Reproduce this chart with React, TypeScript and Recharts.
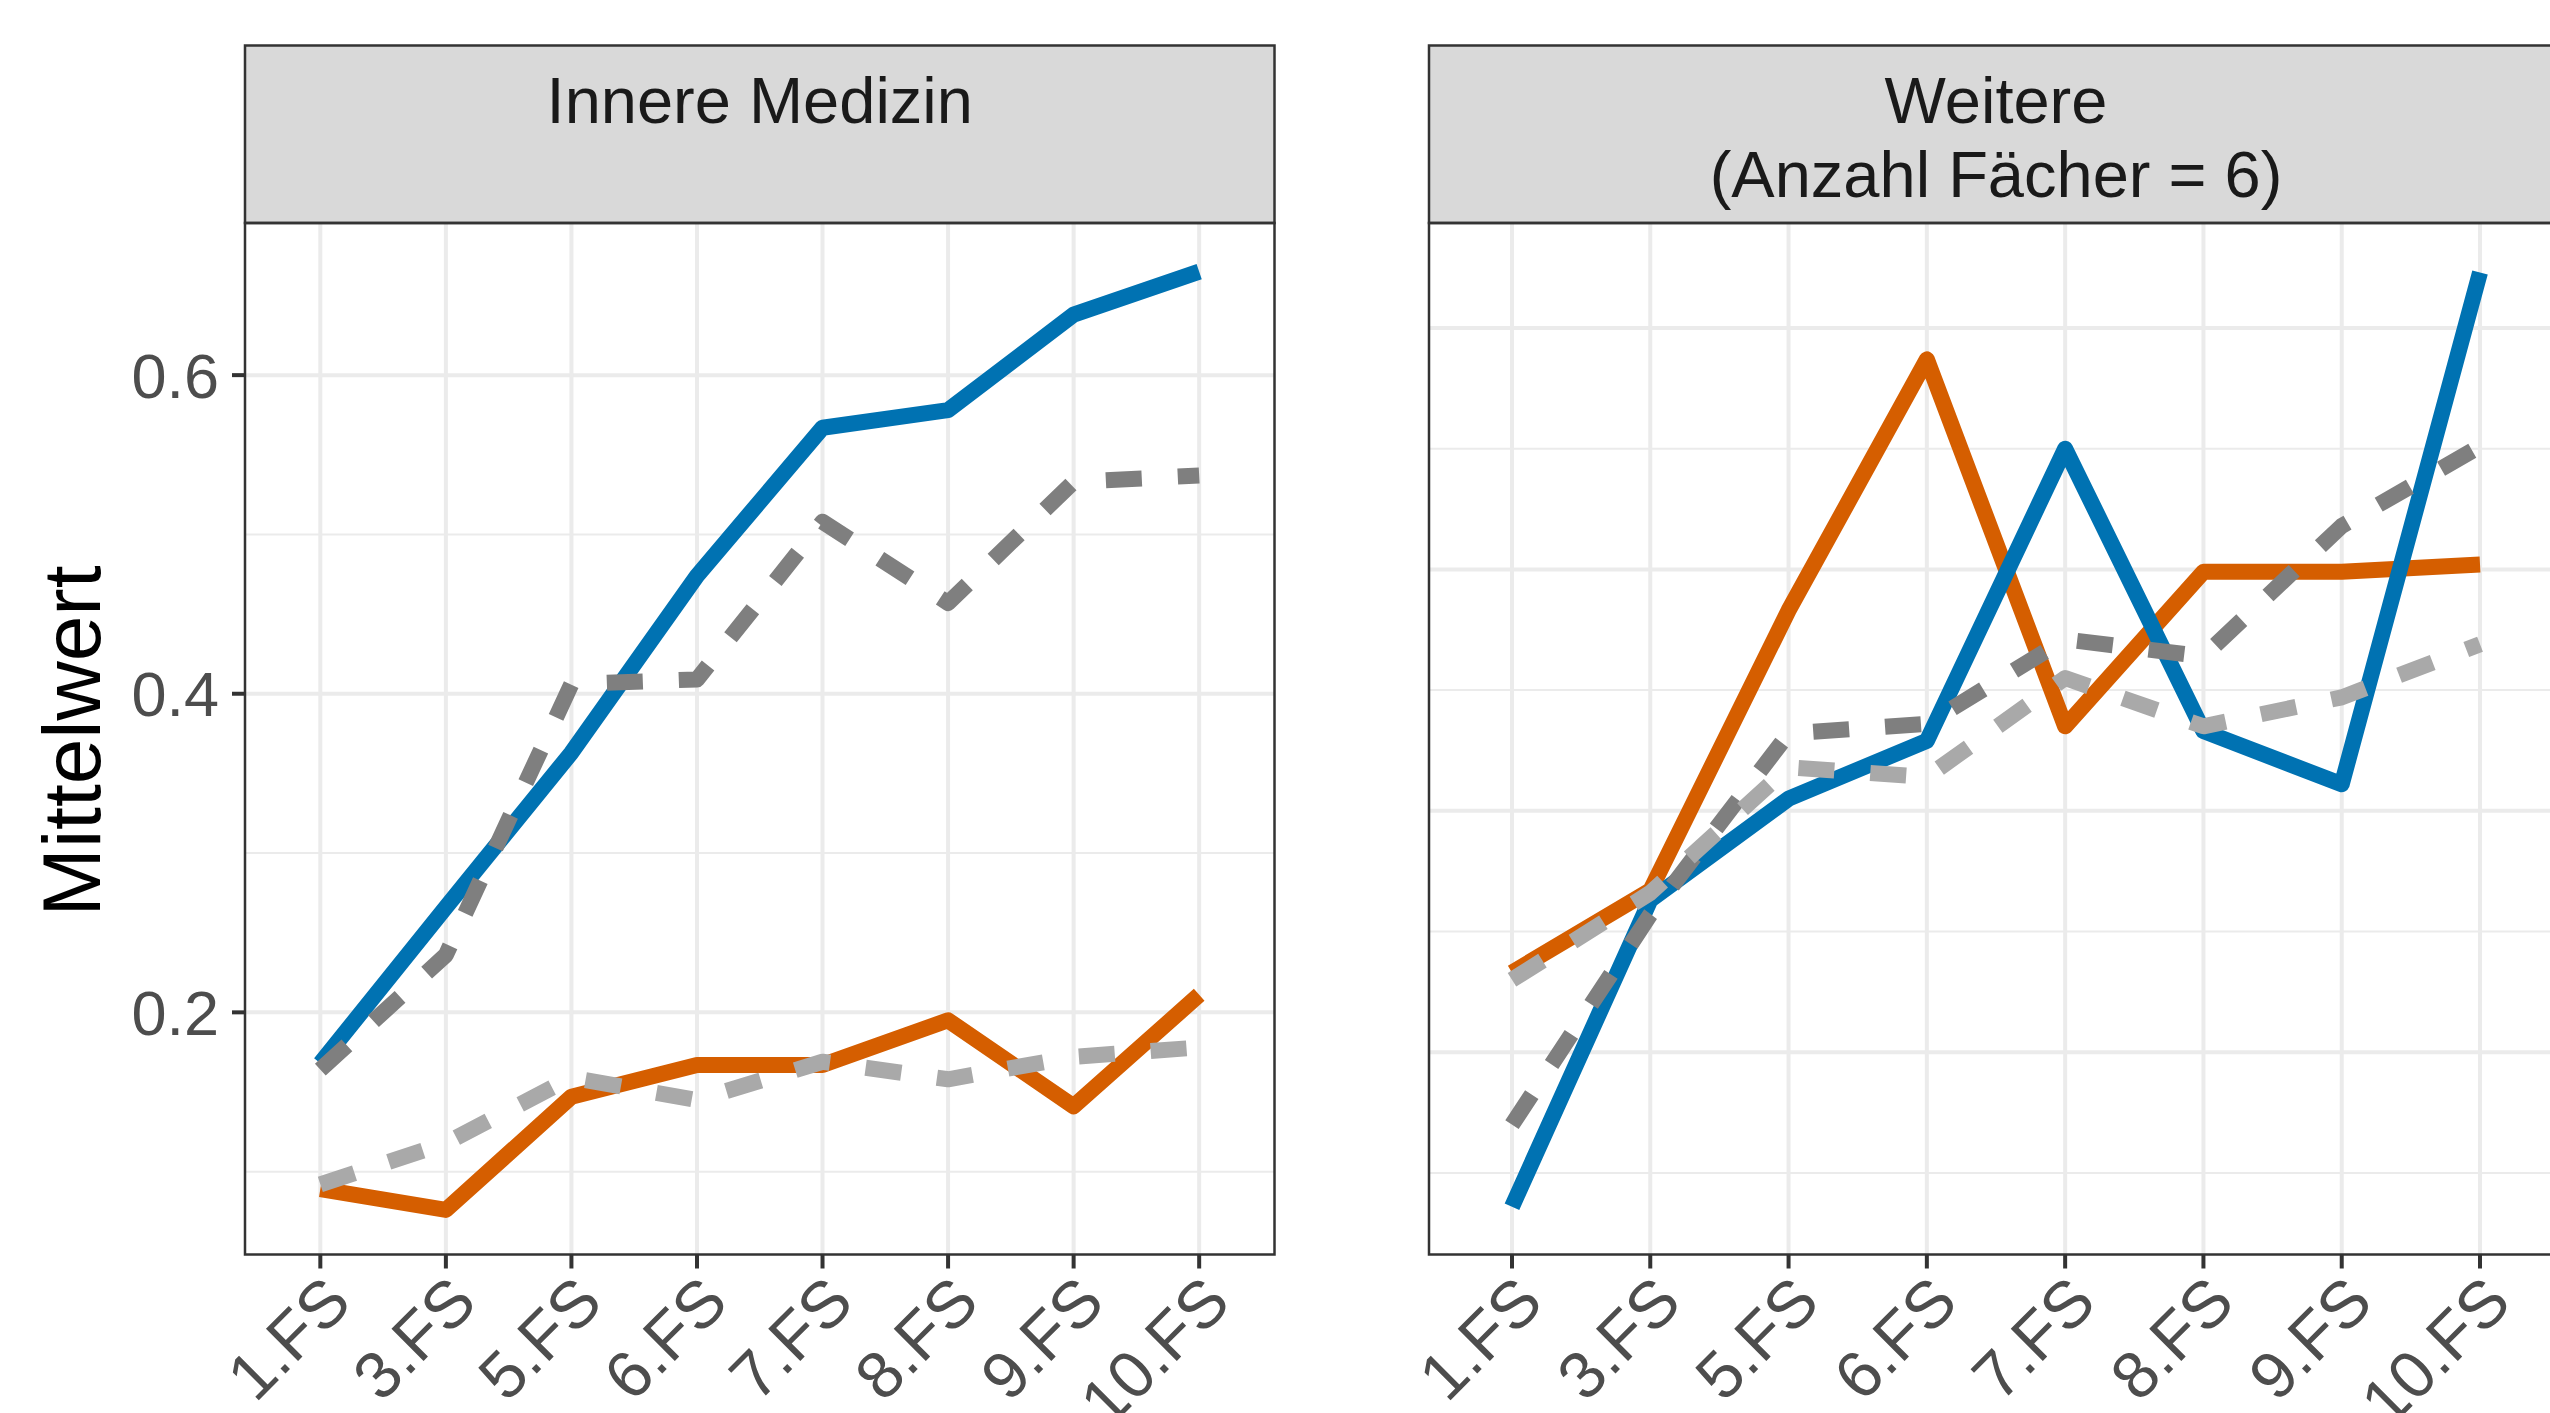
import React from 'react';
import { LineChart, Line, XAxis, YAxis, CartesianGrid } from 'recharts';

const categories = ['1.FS', '3.FS', '5.FS', '6.FS', '7.FS', '8.FS', '9.FS', '10.FS'];

// Innere Medizin
const imBlue = [0.168, 0.266, 0.363, 0.474, 0.567, 0.578, 0.638, 0.665];
const imOrange = [0.089, 0.076, 0.147, 0.167, 0.167, 0.195, 0.141, 0.211];
const imDark = [0.164, 0.236, 0.406, 0.409, 0.508, 0.457, 0.533, 0.537];
const imLight = [0.092, 0.118, 0.159, 0.145, 0.169, 0.158, 0.172, 0.178];

// Weitere (Anzahl Fächer = 6)
const wBlue = [0.236, 0.363, 0.405, 0.429, 0.55, 0.433, 0.411, 0.623];
const wOrange = [0.333, 0.367, 0.483, 0.587, 0.435, 0.499, 0.499, 0.502];
const wDark = [0.27, 0.357, 0.432, 0.436, 0.471, 0.464, 0.518, 0.551];
const wLight = [0.33, 0.366, 0.418, 0.414, 0.455, 0.435, 0.447, 0.469];

const imMajor = [0.2, 0.4, 0.6];
const imMinor = [0.1, 0.3, 0.5];
const wMajor = [0.3, 0.4, 0.5, 0.6];
const wMinor = [0.25, 0.35, 0.45, 0.55];

const FONT = '"Liberation Sans", Arial, Helvetica, sans-serif';
const BLUE = '#0072B2';
const ORANGE = '#D55E00';
const DARK = '#7F7F7F';
const LIGHT = '#A9A9A9';
const xIdx = categories.map((_, i) => i);

function build(blue: number[], orange: number[], dark: number[], light: number[]) {
  return categories.map((c, i) => ({ idx: i, cat: c, blue: blue[i], orange: orange[i], dark: dark[i], light: light[i] }));
}

function XTick({ x, y, payload }: { x?: number; y?: number; payload?: { value: number } }) {
  return (
    <text x={x} y={y} dy="0.72em" textAnchor="end" transform={`rotate(-45 ${x} ${y})`}
      fontSize={66} fill="#4D4D4D" fontFamily={FONT}>
      {categories[payload?.value ?? 0]}
    </text>
  );
}

type PanelProps = {
  left: number; width: number; margin: { top: number; right: number; bottom: number; left: number };
  data: ReturnType<typeof build>; domain: [number, number]; major: number[]; minor: number[]; showY: boolean;
};

function Panel({ left, width, margin, data, domain, major, minor, showY }: PanelProps) {
  return (
    <div style={{ position: 'absolute', left, top: 0 }}>
      <LineChart width={width} height={1413} data={data} margin={margin}>
        <CartesianGrid vertical={false} horizontalValues={minor} stroke="#EBEBEB" strokeWidth={2} />
        <CartesianGrid horizontalValues={major} verticalValues={xIdx} stroke="#EBEBEB" strokeWidth={4} />
        <XAxis dataKey="idx" type="number" domain={[-0.6, 7.6]} ticks={xIdx} allowDataOverflow
          height={100} axisLine={false} tickSize={14} tickMargin={3}
          tickLine={{ stroke: '#333333', strokeWidth: 4 }} tick={<XTick />} interval={0} />
        <YAxis type="number" domain={domain} ticks={major} allowDataOverflow hide={!showY} width={100}
          axisLine={false} tickSize={13} tickMargin={13}
          tickLine={{ stroke: '#333333', strokeWidth: 4 }}
          tick={{ fontSize: 63, fill: '#4D4D4D', fontFamily: FONT }} />
        <Line dataKey="orange" stroke={ORANGE} strokeWidth={16} dot={false} strokeLinejoin="round" isAnimationActive={false} />
        <Line dataKey="blue" stroke={BLUE} strokeWidth={16} dot={false} strokeLinejoin="round" isAnimationActive={false} />
        <Line dataKey="dark" stroke={DARK} strokeWidth={16} strokeDasharray="36 36" dot={false} strokeLinejoin="round" isAnimationActive={false} />
        <Line dataKey="light" stroke={LIGHT} strokeWidth={16} strokeDasharray="36 36" dot={false} strokeLinejoin="round" isAnimationActive={false} />
      </LineChart>
    </div>
  );
}

export default function App() {
  const imData = build(imBlue, imOrange, imDark, imLight);
  const wData = build(wBlue, wOrange, wDark, wLight);
  return (
    <div style={{ position: 'absolute', left: 0, top: 0, width: 2550, height: 1413, overflow: 'hidden', background: '#fff' }}>
      <Panel left={0} width={1300} data={imData} domain={[0.048, 0.6955]} major={imMajor} minor={imMinor} showY
        margin={{ top: 223, right: 25.5, bottom: 58.5, left: 145 }} />
      <Panel left={1300} width={1300} data={wData} domain={[0.2162, 0.6435]} major={wMajor} minor={wMinor} showY={false}
        margin={{ top: 223, right: 37, bottom: 58.5, left: 129 }} />
      <svg width={2600} height={1413} style={{ position: 'absolute', left: 0, top: 0, pointerEvents: 'none' }}>
        <rect x={245} y={45.5} width={1029.5} height={177.5} fill="#D9D9D9" stroke="#333333" strokeWidth={2.5} />
        <rect x={245} y={223} width={1029.5} height={1031.5} fill="none" stroke="#333333" strokeWidth={2.5} />
        <rect x={1429} y={45.5} width={1134} height={177.5} fill="#D9D9D9" stroke="#333333" strokeWidth={2.5} />
        <rect x={1429} y={223} width={1134} height={1031.5} fill="none" stroke="#333333" strokeWidth={2.5} />
        <text x={759.75} y={123} textAnchor="middle" fontSize={65} fill="#1A1A1A" fontFamily={FONT}>Innere Medizin</text>
        <text x={1996} y={123} textAnchor="middle" fontSize={65} fill="#1A1A1A" fontFamily={FONT}>Weitere</text>
        <text x={1996} y={196.5} textAnchor="middle" fontSize={65} fill="#1A1A1A" fontFamily={FONT}>(Anzahl Fächer = 6)</text>
        <text x={100} y={741} textAnchor="middle" transform="rotate(-90 100 741)" fontSize={82} fill="#000" fontFamily={FONT}>Mittelwert</text>
      </svg>
    </div>
  );
}
